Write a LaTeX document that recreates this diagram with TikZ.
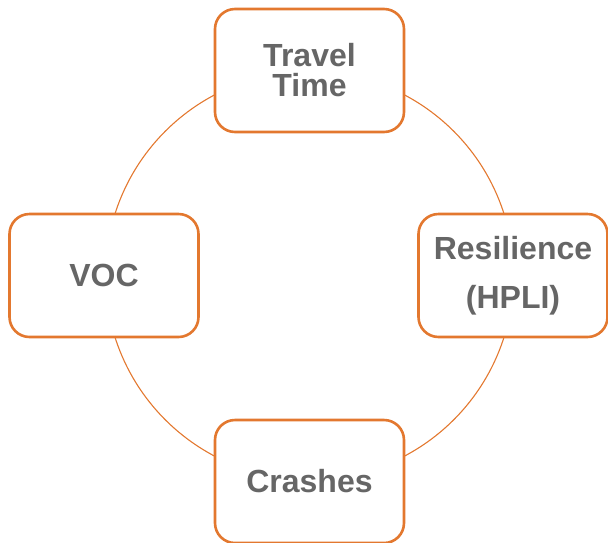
\documentclass[tikz,border=0pt]{standalone}
\usepackage{fontspec}
\setmainfont{Liberation Sans}
\definecolor{ringorange}{HTML}{E3782F}
\definecolor{labelgray}{HTML}{666666}
\begin{document}
\begin{tikzpicture}[x=1pt,y=-1pt,
  cyclebox/.style={draw=ringorange, line width=2.6pt, fill=white,
    rounded corners=20pt, minimum width=189pt, minimum height=123pt,
    inner sep=0pt, align=center, text=labelgray,
    font=\fontsize{32}{30}\selectfont\bfseries},
  ring/.style={draw=ringorange, line width=1.1pt}]
  \useasboundingbox (0,0) rectangle (608,542);
  \coordinate (c) at (309.5,275.5);
  \draw[ring] (c) circle[radius=204];
  \node[cyclebox] (tt)  at (309.5,70.5)  {Travel\\Time};
  \node[cyclebox] (voc) at (104,275.5)   {VOC};
  \node[cyclebox, font=\fontsize{32}{49}\selectfont\bfseries]
    (res) at (513,275.5) {Resilience\\(HPLI)};
  \node[cyclebox] (cr)  at (309.5,481.5) {Crashes};
\end{tikzpicture}
\end{document}
